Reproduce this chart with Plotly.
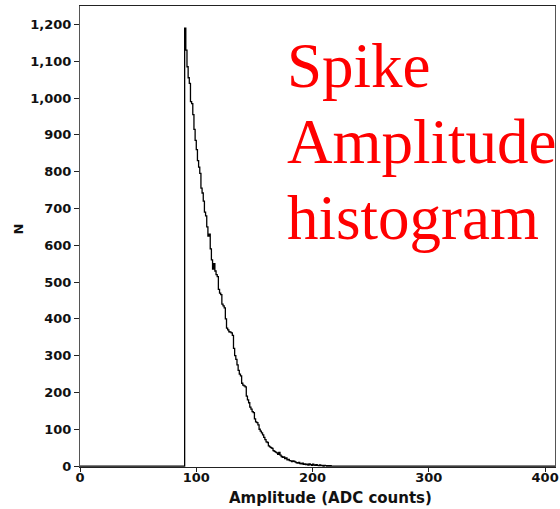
import plotly.graph_objects as go

# Histogram bins: 1 ADC count wide, starting at the detection threshold
bin_start = 90
counts = [
    1190, 1130, 1085, 1055, 1040, 990, 985, 955, 915, 885,   # 90-99
    860, 830, 812, 795, 755, 742, 720, 690, 680, 650,        # 100-109
    625, 630, 590, 560, 535, 550, 530, 520, 515, 480,        # 110-119
    470, 466, 440, 435, 430, 400, 375, 370, 365, 364,        # 120-129
    362, 355, 320, 300, 290, 275, 260, 250, 245, 225,        # 130-139
    220, 218, 215, 190, 180, 172, 160, 155, 148, 145,        # 140-149
    128, 120, 118, 112, 100, 95, 90, 85, 78, 72,             # 150-159
    66, 64, 55, 52, 50, 48, 42, 40, 38, 36,                  # 160-169
    32, 37, 30, 26, 24, 25, 20, 22, 17, 18,                  # 170-179
    15, 14, 12, 14, 13, 11, 9, 8, 10, 7,                     # 180-189
    6, 8, 5, 6, 4, 5, 3, 6, 4, 2,                            # 190-199
    5, 3, 2, 4, 2, 1, 3, 1, 2, 0,                            # 200-209
    2, 1, 0, 1, 0, 1, 0, 0, 0, 0,                            # 210-219
]
x_min, x_max = 0, 408.5

x_ticks = [0, 100, 200, 300, 400]
y_ticks = [0, 100, 200, 300, 400, 500, 600, 700, 800, 900, 1000, 1100, 1200]

title_lines = ["Spike", "Amplitude", "histogram"]

# step outline of the histogram
xs = [x_min]
ys = [0]
for i, c in enumerate(counts):
    xs.append(bin_start + i)
    ys.append(c)
xs.append(bin_start + len(counts))
ys.append(0)
xs.append(x_max)
ys.append(0)

fig = go.Figure()
fig.add_trace(go.Scatter(
    x=xs, y=ys, mode="lines", line=dict(shape="hv", color="black", width=1.3),
    hoverinfo="skip", showlegend=False,
))

tick_font = dict(family="DejaVu Sans", size=13, color="#111", weight="bold")
fig.update_xaxes(
    range=[x_min, x_max], tickvals=x_ticks, showgrid=False, zeroline=False,
    showline=True, linecolor="#222", linewidth=1, mirror=True,
    ticks="outside", ticklen=4, tickcolor="#222", tickfont=tick_font,
    ticklabeloverflow="allow", ticklabelstandoff=-6,
)
fig.update_yaxes(
    range=[-2.5, 1250], tickvals=y_ticks, tickformat=",d", showgrid=False, zeroline=False,
    showline=True, linecolor="#555", linewidth=1, mirror=True,
    ticks="outside", ticklen=5, tickcolor="#222", tickfont=tick_font,
)

# axis titles (placed as annotations to match the reference offsets)
fig.add_annotation(
    text="Amplitude (ADC counts)", xref="paper", yref="paper",
    x=(332 - 80) / 478.5, y=(467 - 498) / 461, xanchor="center", yanchor="middle",
    showarrow=False, font=dict(family="DejaVu Sans", size=15, color="#111", weight="bold"),
)
fig.add_annotation(
    text="N", xref="paper", yref="paper", textangle=-90,
    x=(19 - 80) / 478.5, y=(467 - 229) / 461, xanchor="center", yanchor="middle",
    showarrow=False, font=dict(family="DejaVu Sans", size=13, color="#111", weight="bold"),
)

mids_px = [66, 142, 218]
for txt, py in zip(title_lines, mids_px):
    fig.add_annotation(
        text=txt, xref="paper", yref="paper", x=(287 - 80) / 478.5, y=(467 - py) / 461,
        xanchor="left", yanchor="middle", showarrow=False,
        font=dict(family="Liberation Serif", size=63, color="#ff0000"),
    )

fig.update_layout(
    width=560, height=509, margin=dict(l=80, r=1.5, t=6, b=42),
    plot_bgcolor="white", paper_bgcolor="white",
)
fig.write_html("out.html")
